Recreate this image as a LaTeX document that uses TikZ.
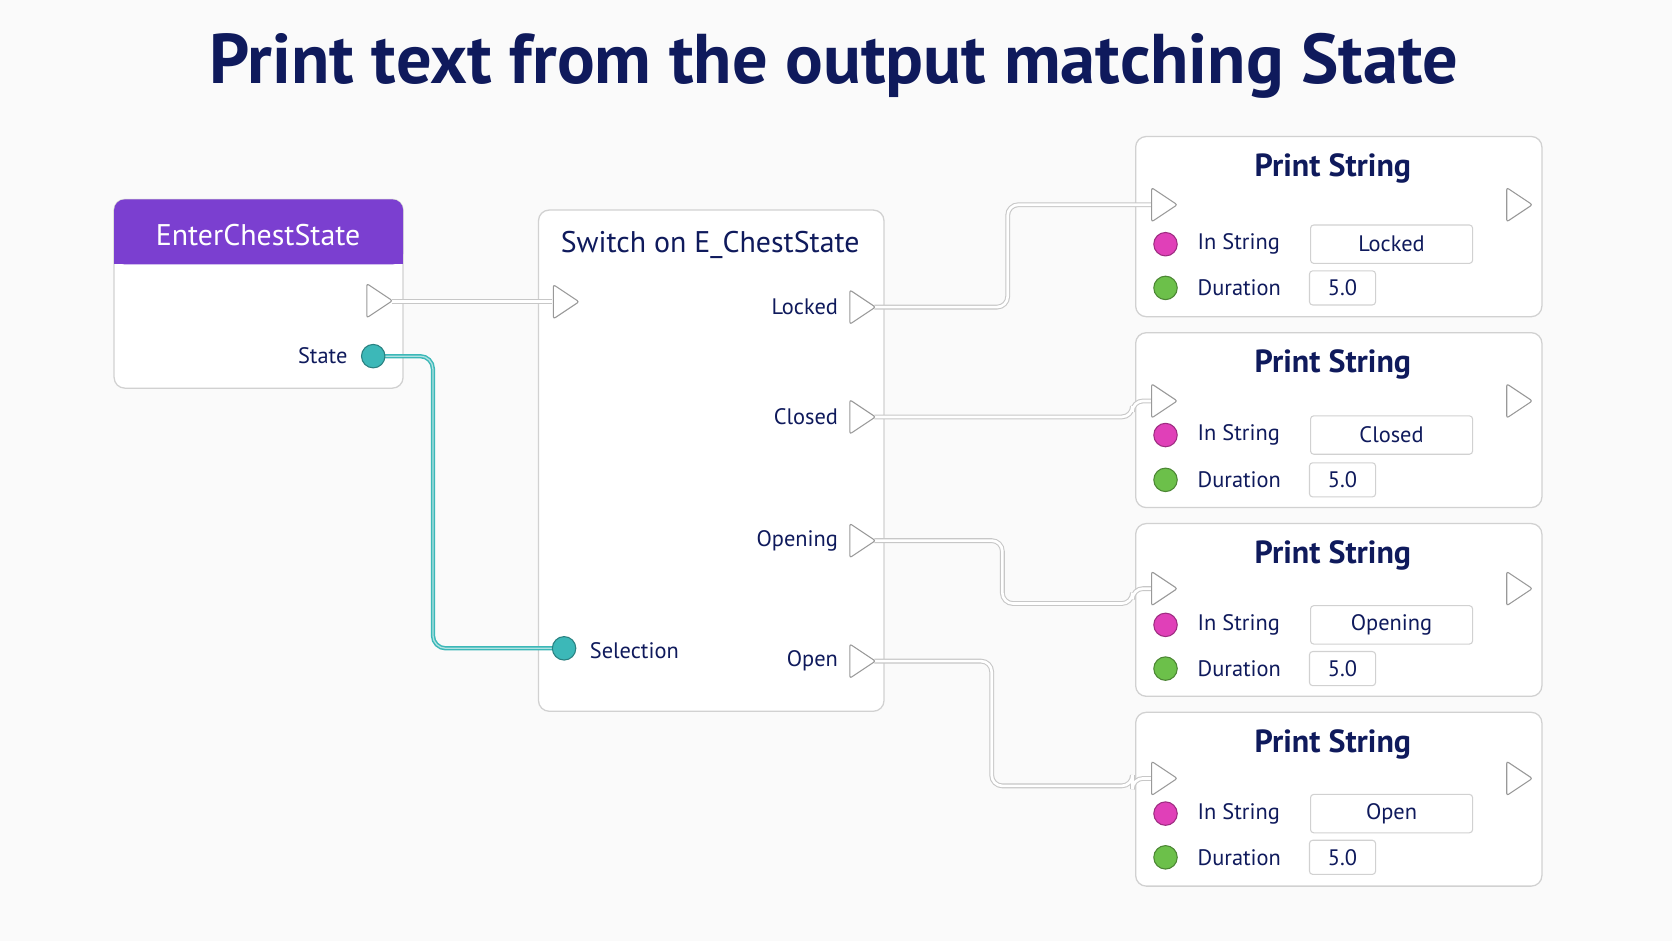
\documentclass[tikz,border=0pt]{standalone}
\usepackage{fontspec}
\setmainfont{PT Sans}
\begin{document}
\begin{tikzpicture}[x=1pt,y=-1pt,
  card/.style={draw=black!18,line width=1.2pt,fill=white,rounded corners=10pt},
  pin/.style={draw=black!40,line width=1pt,fill=white,rounded corners=2pt},
  lbl/.style={text=navy,font=\fontsize{21}{24}\selectfont,inner sep=0},
  ttl/.style={text=navy,font=\fontsize{30}{34}\selectfont\bfseries,inner sep=0},
  field/.style={draw=black!18,line width=1pt,fill=white,rounded corners=3pt,minimum height=36,text=navy,font=\fontsize{21}{24}\selectfont},
  wire/.style={line width=4.5pt,draw=black!22,rounded corners=10pt},
  wirei/.style={line width=2.5pt,draw=white,rounded corners=10pt},
  dot/.style={circle,minimum size=22,inner sep=0,line width=1pt}]
\definecolor{navy}{HTML}{0F1A5C}
\definecolor{purp}{HTML}{7B3FD0}
\definecolor{teal}{HTML}{3CB8B8}
\definecolor{pink}{HTML}{E040B8}
\definecolor{grn}{HTML}{6CC04A}
\fill[black!2] (0,0) rectangle (1568,882);
\useasboundingbox (0,0) rectangle (1568,882);
\node[text=navy,font=\fontsize{66}{70}\selectfont\bfseries] (title) at (782,62) {Print text from the output matching State};
\newcommand\execpin[3]{\draw[pin] (#2-11,#3-16) -- (#2+13,#3) -- (#2-11,#3+16) -- cycle; \coordinate (#1) at (#2,#3);}
% Enter node
\draw[card] (107,187) rectangle (378,364);
\fill[purp,rounded corners=10pt] (107,187) rectangle (378,248);
\fill[purp] (107,230) rectangle (378,248);
\node[text=white,font=\fontsize{28}{32}\selectfont,inner sep=0] (enter) at (242,220) {EnterChestState};
\node[lbl,anchor=east] (statel) at (326,334) {State};
% Switch
\draw[card] (505,197) rectangle (829,667);
\node[ttl,font=\fontsize{28}{32}\selectfont] (sw) at (666,230) {Switch on E\_ChestState};
\node[lbl,anchor=east] (l1) at (786,288) {Locked};
\node[lbl,anchor=east] (l2) at (786,391) {Closed};
\node[lbl,anchor=east] (l3) at (786,507) {Opening};
\node[lbl,anchor=east] (l4) at (786,620) {Open};
\node[lbl,anchor=west] (sel) at (553,610) {Selection};
% cards
\foreach \y/\h/\a/\b/\s [count=\i] in {128/169/101/142/Locked,312/164/96/138/Closed,491/162/95/136/Opening,668/163/95/136/Open}{
  \draw[card] (1065,\y) rectangle (1446,\y+\h);
  \node[ttl] (pt\i) at (1250,\y+30) {Print String};
  \node[dot,draw=pink!70!black,fill=pink] (ps\i) at (1093,\y+\a) {};
  \node[lbl,anchor=west] (is\i) at (1123,\y+\a) {In String};
  \node[field,minimum width=152] (f\i) at (1305,\y+\a) {\s};
  \node[dot,draw=grn!70!black,fill=grn] (gs\i) at (1093,\y+\b) {};
  \node[lbl,anchor=west] (du\i) at (1123,\y+\b) {Duration};
  \node[field,minimum width=62,minimum height=32] (d\i) at (1259,\y+\b) {5.0};
}
% wires
\coordinate (eo) at (368,283); \coordinate (si) at (518,283);
\foreach \st in {wire,wirei}{
  \draw[\st] (eo) -- (si);
  \draw[\st] (820,288) -- (945,288) -- (945,192) -- (1080,192);
  \draw[\st] (820,391) -- (1062,391) -- (1062,376) -- (1080,376);
  \draw[\st] (820,507) -- (940,507) -- (940,566) -- (1062,566) -- (1062,552) -- (1080,552);
  \draw[\st] (820,620) -- (930,620) -- (930,737) -- (1062,737) -- (1062,730) -- (1080,730);
}
\draw[teal,line width=4pt,rounded corners=12pt] (350,334) -- (406,334) -- (406,608) -- (529,608);
\draw[white,line width=1.2pt,opacity=.6,rounded corners=12pt] (350,334) -- (406,334) -- (406,608) -- (529,608);
\node[dot,draw=teal!70!black,fill=teal] (stp) at (350,334) {};
\node[dot,draw=teal!70!black,fill=teal] (selp) at (529,608) {};
% exec pins
\execpin{eop}{355}{282}
\execpin{sip}{530}{283}
\execpin{o1}{808}{288}
\execpin{o2}{808}{391}
\execpin{o3}{808}{507}
\execpin{o4}{808}{620}
\execpin{i1}{1091}{192}\execpin{q1}{1424}{192}
\execpin{i2}{1091}{376}\execpin{q2}{1424}{376}
\execpin{i3}{1091}{552}\execpin{q3}{1424}{552}
\execpin{i4}{1091}{730}\execpin{q4}{1424}{730}
\end{tikzpicture}
\end{document}
